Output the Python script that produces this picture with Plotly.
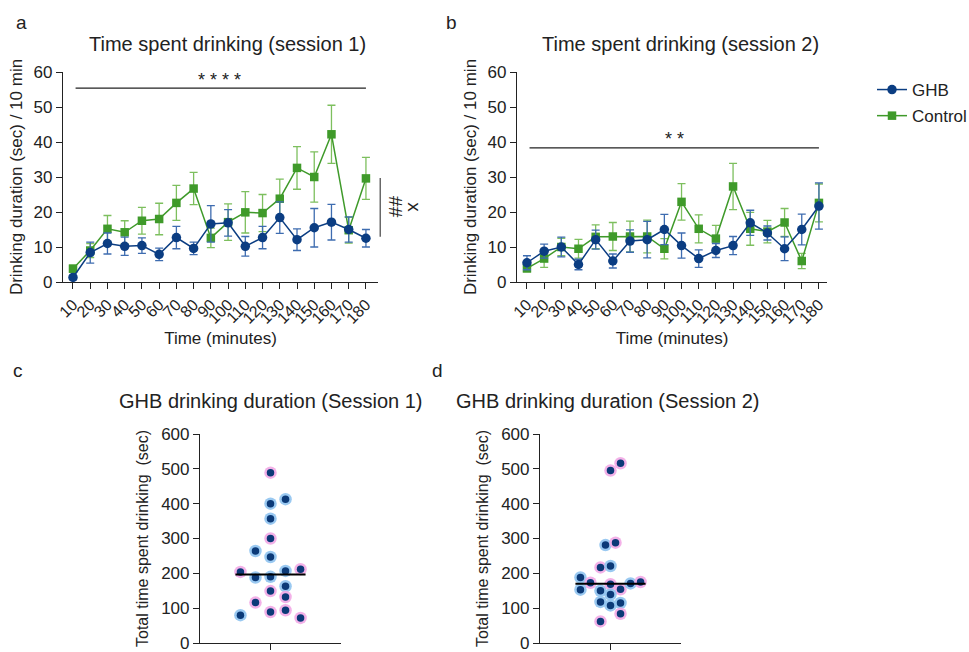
import plotly.graph_objects as go
import numpy as np

W, H = 969, 652

# ---------------- data ----------------
time_min = [10, 20, 30, 40, 50, 60, 70, 80, 90, 100, 110, 120, 130, 140, 150, 160, 170, 180]
time_labels = [str(t) for t in time_min]

s1_ghb_mean = [1.3, 8.4, 11.0, 10.2, 10.4, 7.9, 12.7, 9.6, 16.6, 16.9, 10.2, 12.7, 18.4, 12.1, 15.5, 17.1, 15.0, 12.5]
s1_ghb_sem = [0.6, 3.0, 3.0, 2.6, 2.2, 1.8, 3.2, 1.8, 5.2, 3.8, 2.8, 3.2, 4.5, 3.1, 5.5, 5.1, 3.6, 2.5]
s1_ctl_mean = [3.8, 9.0, 15.2, 14.2, 17.5, 18.0, 22.6, 26.7, 12.6, 17.1, 19.9, 19.7, 23.8, 32.6, 30.0, 42.2, 14.8, 29.6]
s1_ctl_sem = [1.0, 2.0, 3.8, 3.3, 3.8, 4.5, 5.0, 4.6, 2.8, 5.2, 5.9, 5.3, 5.6, 6.1, 7.2, 8.3, 3.7, 6.0]

s2_ghb_mean = [5.5, 8.8, 10.0, 5.0, 12.1, 6.0, 11.7, 12.1, 15.0, 10.4, 6.7, 9.0, 10.4, 16.9, 14.0, 9.5, 15.0, 21.7]
s2_ghb_sem = [2.0, 2.0, 2.8, 1.5, 2.7, 2.0, 3.2, 5.2, 4.3, 3.6, 2.5, 2.0, 2.6, 3.6, 2.0, 3.4, 4.4, 6.6]
s2_ctl_mean = [3.9, 6.7, 10.0, 9.5, 12.9, 13.0, 13.0, 13.0, 9.5, 22.9, 15.2, 12.4, 27.3, 15.2, 14.4, 17.0, 6.0, 22.6]
s2_ctl_sem = [1.0, 2.5, 2.5, 2.7, 3.4, 4.0, 4.4, 4.7, 2.9, 5.2, 4.0, 3.8, 6.6, 4.7, 3.2, 4.0, 2.2, 5.4]

# individual totals (sec), jitter column index, sex group (F = pink, M = blue)
s1_total = [489, 400, 413, 357, 300, 264, 247, 204, 207, 212, 188, 190, 163, 149, 132, 116, 89, 94, 80, 72]
s1_col = [0, 0, 3, 0, 0, -3, 0, -6, 3, 6, -3, 0, 3, 0, 3, -3, 0, 3, -6, 6]
s1_grp = ["F", "M", "M", "M", "F", "M", "M", "F", "M", "F", "M", "M", "M", "F", "F", "F", "F", "F", "M", "F"]

s2_total = [495, 516, 281, 288, 217, 221, 188, 173, 153, 150, 169, 154, 171, 175, 139, 118, 108, 115, 84, 62]
s2_col = [0, 2, -1, 1, -2, 0, -6, -4, -6, -2, 0, 2, 4, 6, 0, -2, 0, 2, 2, -2]
s2_grp = ["F", "F", "M", "F", "F", "M", "M", "F", "M", "M", "F", "F", "M", "F", "M", "M", "M", "M", "F", "F"]

# ---------------- style ----------------
FONT = "Liberation Sans, Arial, sans-serif"
NAVY = "#0b3d82"
NAVY_ERR = "#3e6cb0"
GREEN = "#3f9a2a"
GREEN_ERR = "#7dbf5e"
HALO = {"F": "#f2a9e6", "M": "#8fc3f0"}
DOT = "#0c3a78"


def dom_x(px0, px1):
    return [px0 / W, px1 / W]


def dom_y(py_top, py_bot):
    return [1 - py_bot / H, 1 - py_top / H]


fig = go.Figure()


def add_line_panel(xa, ya, ghb_m, ghb_e, ctl_m, ctl_e, show_legend):
    fig.add_trace(go.Scatter(
        x=time_min, y=ctl_m, mode="lines+markers", name="Control",
        xaxis=xa, yaxis=ya, showlegend=show_legend, legendrank=2, legendgroup="ctl",
        line=dict(color=GREEN, width=1.5),
        marker=dict(symbol="square", size=8.5, color=GREEN),
        error_y=dict(type="data", array=ctl_e, color=GREEN_ERR, thickness=1.3, width=4),
        cliponaxis=False))
    fig.add_trace(go.Scatter(
        x=time_min, y=ghb_m, mode="lines+markers", name="GHB",
        xaxis=xa, yaxis=ya, showlegend=show_legend, legendrank=1, legendgroup="ghb",
        line=dict(color=NAVY, width=1.5),
        marker=dict(symbol="circle", size=9.5, color=NAVY),
        error_y=dict(type="data", array=ghb_e, color=NAVY_ERR, thickness=1.3, width=4),
        cliponaxis=False))


add_line_panel("x", "y", s1_ghb_mean, s1_ghb_sem, s1_ctl_mean, s1_ctl_sem, True)
add_line_panel("x2", "y2", s2_ghb_mean, s2_ghb_sem, s2_ctl_mean, s2_ctl_sem, False)


def add_dot_panel(xa, ya, totals, cols, grps):
    fig.add_trace(go.Scatter(
        x=cols, y=totals, mode="markers", xaxis=xa, yaxis=ya, showlegend=False,
        marker=dict(size=12.5, color=[HALO[g] for g in grps], opacity=0.9),
        cliponaxis=False, hoverinfo="skip"))
    fig.add_trace(go.Scatter(
        x=cols, y=totals, mode="markers", xaxis=xa, yaxis=ya, showlegend=False,
        marker=dict(size=7.5, color=DOT), cliponaxis=False))
    med = float(np.median(totals))
    fig.add_trace(go.Scatter(
        x=[-7, 7], y=[med, med], mode="lines", xaxis=xa, yaxis=ya, showlegend=False,
        line=dict(color="black", width=2), hoverinfo="skip"))


add_dot_panel("x3", "y3", s1_total, s1_col, s1_grp)
add_dot_panel("x4", "y4", s2_total, s2_col, s2_grp)

axis_common = dict(showline=True, linecolor="#222", linewidth=1.2, ticks="outside",
                   ticklen=6, tickwidth=1.2, tickcolor="#222", showgrid=False, zeroline=False,
                   automargin=False, ticklabeloverflow="allow",
                   tickfont=dict(family=FONT, size=17, color="#222"))

xline = dict(axis_common, tickmode="array", tickvals=time_min, ticktext=time_labels,
             tickangle=-45, tickfont=dict(family=FONT, size=16, color="#222"))
ytitle_font = dict(family=FONT, size=17, color="#222")
ytitle_font_dot = dict(family=FONT, size=16, color="#222")
ylin = dict(axis_common, range=[0, 60], tickvals=[0, 10, 20, 30, 40, 50, 60])
ydot = dict(axis_common, range=[0, 600], tickvals=[0, 100, 200, 300, 400, 500, 600])
xdot = dict(axis_common, range=[-14.07, 14.07], tickvals=[0], showticklabels=False)

fig.update_layout(
    width=W, height=H, margin=dict(l=0, r=0, t=0, b=0, autoexpand=False),
    paper_bgcolor="white", plot_bgcolor="white",
    font=dict(family=FONT, color="#222"),
    xaxis=dict(xline, domain=dom_x(63, 378), range=[4.2, 187], anchor="y",
               title=dict(text="Time (minutes)", font=ytitle_font, standoff=6)),
    yaxis=dict(ylin, domain=dom_y(72, 282), anchor="x",
               title=dict(text="Drinking duration (sec) / 10 min", font=ytitle_font, standoff=6)),
    xaxis2=dict(xline, domain=dom_x(517, 827), range=[4.2, 184.7], anchor="y2",
                title=dict(text="Time (minutes)", font=ytitle_font, standoff=6)),
    yaxis2=dict(ylin, domain=dom_y(72, 282), anchor="x2",
                title=dict(text="Drinking duration (sec) / 10 min", font=ytitle_font, standoff=6)),
    xaxis3=dict(xdot, domain=dom_x(200, 341), anchor="y3"),
    yaxis3=dict(ydot, domain=dom_y(434, 643), anchor="x3",
                title=dict(text="Total time spent drinking  (sec)", font=ytitle_font_dot, standoff=8)),
    xaxis4=dict(xdot, domain=dom_x(540, 681), anchor="y4"),
    yaxis4=dict(ydot, domain=dom_y(434, 643), anchor="x4",
                title=dict(text="Total time spent drinking  (sec)", font=ytitle_font_dot, standoff=8)),
    legend=dict(x=872 / W, y=1 - 72 / H, xanchor="left", yanchor="top",
                font=dict(family=FONT, size=17, color="#222"), tracegroupgap=1,
                itemwidth=30, bgcolor="rgba(0,0,0,0)"),
    showlegend=True,
)

# significance bars
fig.add_shape(type="line", xref="x", yref="y", x0=11.5, x1=180, y0=55.4, y1=55.4,
              line=dict(color="#222", width=1.3))
fig.add_shape(type="line", xref="x2", yref="y2", x0=11.5, x1=180, y0=38.3, y1=38.3,
              line=dict(color="#222", width=1.3))
fig.add_shape(type="line", xref="x domain", yref="y domain", x0=1.007, x1=1.007,
              y0=29.7 / 60, y1=12.9 / 60, line=dict(color="#444", width=1.2))

annos = [
    dict(text="* * * *", x=95, y=57.8, xref="x", yref="y", font=dict(size=18)),
    dict(text="* *", x=96, y=41.0, xref="x2", yref="y2", font=dict(size=18)),
    dict(text="##", x=1.055, y=21.3 / 60, xref="x domain", yref="y domain", textangle=90,
         font=dict(size=19)),
    dict(text="x", x=1.115, y=21.3 / 60, xref="x domain", yref="y domain", textangle=90,
         font=dict(size=19)),
    dict(text="Time spent drinking (session 1)", x=227 / W, y=1 - 44 / H, xref="paper", yref="paper",
         font=dict(size=20)),
    dict(text="Time spent drinking (session 2)", x=680 / W, y=1 - 44 / H, xref="paper", yref="paper",
         font=dict(size=20)),
    dict(text="GHB drinking duration (Session 1)", x=270 / W, y=1 - 401 / H, xref="paper", yref="paper",
         font=dict(size=20)),
    dict(text="GHB drinking duration (Session 2)", x=607.5 / W, y=1 - 401 / H, xref="paper", yref="paper",
         font=dict(size=20)),
    dict(text="a", x=21 / W, y=1 - 22 / H, xref="paper", yref="paper", font=dict(size=19)),
    dict(text="b", x=451 / W, y=1 - 22 / H, xref="paper", yref="paper", font=dict(size=19)),
    dict(text="c", x=17.5 / W, y=1 - 370 / H, xref="paper", yref="paper", font=dict(size=19)),
    dict(text="d", x=437 / W, y=1 - 370 / H, xref="paper", yref="paper", font=dict(size=19)),
]
for a in annos:
    a.setdefault("showarrow", False)
    a["font"] = dict(family=FONT, color="#222", **a["font"])
    a.setdefault("xanchor", "center")
    a.setdefault("yanchor", "middle")
    fig.add_annotation(**a)

fig.write_html("out.html")
